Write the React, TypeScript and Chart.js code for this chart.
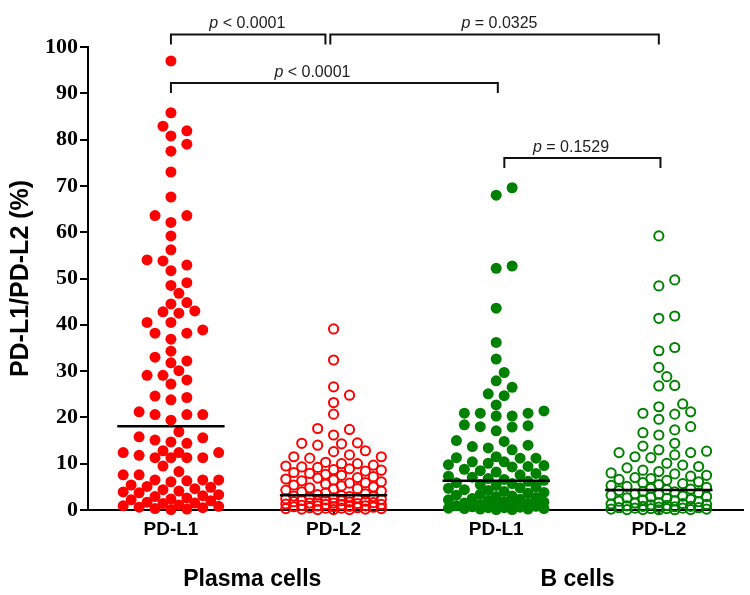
import React, { useEffect, useRef } from 'react';
import { Chart, registerables } from 'chart.js';

Chart.register(...registerables);

// ---------- data ----------
const categories = ['PD-L1', 'PD-L2', 'PD-L1', 'PD-L2'];
const cellGroups = ['Plasma cells', 'B cells'];
const yTicks = [0, 10, 20, 30, 40, 50, 60, 70, 80, 90, 100];

const plasmaPDL1 = [
  97.0, 85.8, 82.9, 81.9, 80.8, 79.0, 77.5, 73.0, 67.6, 63.6, 63.6, 62.1, 59.2, 56.2, 54.0, 53.8,
  52.9, 51.7, 49.1, 48.5, 46.8, 44.8, 44.5, 43.0, 42.8, 42.5, 40.5, 40.5, 38.9, 38.2, 38.2, 36.9,
  34.3, 33.0, 32.2, 31.8, 30.1, 29.1, 29.1, 28.1, 27.2, 24.6, 24.3, 23.8, 21.2, 20.6, 20.6, 20.6,
  19.4, 16.9, 15.8, 15.6, 15.1, 14.7, 14.4, 12.8, 12.4, 12.4, 12.4, 11.8, 11.3, 11.3, 11.3, 11.3,
  9.5, 8.3, 7.6, 7.6, 6.5, 6.5, 6.5, 6.3, 6.1, 5.4, 5.1, 4.9, 4.6, 4.4, 4.1, 3.9, 3.7, 3.3, 3.1,
  2.9, 2.6, 2.4, 2.2, 2.0, 1.7, 1.5, 1.4, 1.1, 0.9, 0.8, 0.6, 0.5, 0.3, 0.2, 0.1,
];

const plasmaPDL2 = [
  39.1, 32.4, 26.6, 24.8, 23.2, 20.7, 17.6, 17.4, 16.2, 14.5, 14.4, 14.3, 14.0, 12.8, 12.6, 11.9,
  11.5, 11.5, 11.2, 10.3, 10.0, 10.0, 9.7, 9.5, 9.3, 9.2, 8.9, 8.7, 8.6, 8.4, 8.1, 7.9, 7.7, 7.5,
  7.2, 7.0, 6.9, 6.7, 6.5, 6.3, 6.1, 5.9, 5.8, 5.6, 5.4, 5.2, 5.0, 4.8, 4.6, 4.5, 4.3, 4.1, 3.9,
  3.7, 3.5, 3.3, 3.1, 3.0, 2.9, 2.9, 2.7, 2.6, 2.6, 2.4, 2.3, 2.2, 2.1, 2.0, 1.9, 1.9, 1.8, 1.7,
  1.6, 1.5, 1.5, 1.4, 1.3, 1.2, 1.2, 1.1, 1.0, 0.9, 0.9, 0.8, 0.7, 0.7, 0.6, 0.5, 0.5, 0.4, 0.4,
  0.3, 0.3, 0.2, 0.2, 0.1, 0.1, 0.1,
];

const bPDL1 = [
  69.6, 68.0, 52.7, 52.2, 43.6, 36.2, 32.6, 29.7, 27.9, 26.5, 25.1, 24.7, 22.7, 21.4, 20.9, 20.9,
  20.9, 20.3, 20.3, 18.4, 18.2, 18.0, 17.9, 17.1, 15.0, 14.8, 14.0, 13.7, 13.4, 13.0, 11.5, 11.3,
  11.2, 11.2, 10.4, 10.4, 10.1, 9.8, 9.6, 9.4, 9.3, 8.8, 8.5, 8.2, 7.9, 7.6, 7.3, 7.1, 6.8, 6.6,
  6.4, 6.2, 5.9, 5.7, 5.5, 5.3, 5.0, 4.8, 4.7, 4.4, 4.2, 4.0, 3.8, 3.6, 3.4, 3.2, 3.0, 2.9, 2.7,
  2.5, 2.3, 2.2, 2.0, 1.8, 1.7, 1.5, 1.4, 1.2, 1.1, 1.0, 0.9, 0.8, 0.7, 0.6, 0.5, 0.5, 0.4, 0.3,
  0.3, 0.2, 0.2, 0.1, 0.1,
];

const bPDL2 = [
  59.2, 49.7, 48.4, 41.9, 41.4, 35.1, 34.4, 30.8, 28.8, 26.9, 26.8, 22.9, 22.3, 21.2, 20.9, 20.7,
  19.6, 18.0, 17.3, 16.7, 16.2, 14.4, 13.8, 13.0, 12.7, 12.4, 12.4, 11.9, 11.5, 11.3, 10.1, 9.7,
  9.4, 9.1, 8.6, 8.3, 8.0, 7.8, 7.5, 7.3, 7.0, 6.8, 6.6, 6.4, 6.1, 5.9, 5.7, 5.5, 5.3, 5.1, 4.9,
  4.7, 4.5, 4.4, 4.2, 4.0, 3.9, 3.7, 3.5, 3.4, 3.2, 3.0, 2.9, 2.8, 2.6, 2.5, 2.3, 2.2, 2.0, 1.9,
  1.8, 1.6, 1.5, 1.4, 1.3, 1.2, 1.1, 1.0, 0.9, 0.8, 0.8, 0.7, 0.6, 0.5, 0.5, 0.4, 0.4, 0.3, 0.3,
  0.2, 0.2, 0.1, 0.1, 0.1, 0.05, 0.05,
];

const medians = [18.1, 3.2, 6.3, 4.3];

// comparison brackets: [from, to, level (y value), label x, relation text]
const brackets: [number, number, number, number, string][] = [
  [1, 1.95, 102.7, 1.47, '< 0.0001'],
  [1.98, 4.0, 102.7, 3.02, '= 0.0325'],
  [1.0, 3.01, 92.2, 1.87, '< 0.0001'],
  [3.05, 4.01, 76.0, 3.46, '= 0.1529'],
];

// ---------- helpers ----------
const PX_PER_X = 163.5;
const PX_PER_Y = 4.633;
const STEP = 8;
const MAXK = 6;
const MIN_D = 11;

function swarm(values: number[], center: number) {
  const sorted = [...values].sort((a, b) => a - b);
  const cands: number[] = [0];
  for (let k = 1; k <= MAXK; k++) cands.push(k * STEP, -k * STEP);
  const placed: { dx: number; py: number }[] = [];
  const out: { x: number; y: number }[] = [];
  for (const v of sorted) {
    const py = v * PX_PER_Y;
    let best = 0;
    let bestD = -1;
    for (const c of cands) {
      let md = Infinity;
      for (const p of placed) {
        if (Math.abs(p.py - py) < MIN_D) {
          const d = Math.hypot(p.dx - c, p.py - py);
          if (d < md) md = d;
        }
      }
      if (md >= MIN_D) {
        best = c;
        bestD = md;
        break;
      }
      if (md > bestD + 0.5) {
        bestD = md;
        best = c;
      }
    }
    placed.push({ dx: best, py });
    out.push({ x: center + best / PX_PER_X, y: v });
  }
  return out;
}

const RED = '#ff0000';
const GREEN = '#008000';

const annotationPlugin = {
  id: 'annotations',
  afterDraw(chart: any) {
    const { ctx, scales } = chart;
    const xs = scales.x;
    const ys = scales.y;
    ctx.save();
    // brackets
    ctx.strokeStyle = '#111';
    ctx.lineWidth = 2;
    for (const [a, b, lvl, lx, txt] of brackets) {
      const x1 = xs.getPixelForValue(a);
      const x2 = xs.getPixelForValue(b);
      const y = ys.getPixelForValue(lvl);
      ctx.beginPath();
      ctx.moveTo(x1, y + 10);
      ctx.lineTo(x1, y);
      ctx.lineTo(x2, y);
      ctx.lineTo(x2, y + 10);
      ctx.stroke();
      const cx = xs.getPixelForValue(lx);
      const ty = y - 6;
      ctx.fillStyle = '#222';
      ctx.textBaseline = 'alphabetic';
      const italic = 'italic 16px "Liberation Sans", Arial, sans-serif';
      const normal = '16px "Liberation Sans", Arial, sans-serif';
      ctx.font = italic;
      const w1 = ctx.measureText('p ').width;
      ctx.font = normal;
      const w2 = ctx.measureText(txt).width;
      const start = cx - (w1 + w2) / 2;
      ctx.font = italic;
      ctx.textAlign = 'left';
      ctx.fillText('p', start, ty);
      ctx.font = normal;
      ctx.fillText(txt, start + w1, ty);
    }
    // group labels
    ctx.fillStyle = '#000';
    ctx.font = 'bold 23px "Liberation Sans", Arial, sans-serif';
    ctx.textAlign = 'center';
    ctx.textBaseline = 'middle';
    cellGroups.forEach((g, i) => {
      const cx = (xs.getPixelForValue(1 + i * 2) + xs.getPixelForValue(2 + i * 2)) / 2;
      ctx.fillText(g, cx, 580);
    });
    ctx.restore();
  },
};

export default function App() {
  const ref = useRef<HTMLCanvasElement | null>(null);

  useEffect(() => {
    if (!ref.current) return;
    const groups = [plasmaPDL1, plasmaPDL2, bPDL1, bPDL2];
    const colors = [RED, RED, GREEN, GREEN];
    const filled = [true, false, true, false];
    const pointSets: any[] = groups.map((vals, i) => ({
      type: 'scatter',
      data: swarm(vals, i + 1),
      pointRadius: filled[i] ? 5.5 : 4.6,
      pointBackgroundColor: filled[i] ? colors[i] : 'rgba(0,0,0,0)',
      pointBorderColor: colors[i],
      pointBorderWidth: filled[i] ? 0 : 2,
      showLine: false,
      clip: false,
      order: 2,
    }));
    const medianSets: any[] = medians.map((m, i) => ({
      type: 'line',
      data: [
        { x: i + 1 - 0.33, y: m },
        { x: i + 1 + 0.33, y: m },
      ],
      borderColor: '#000',
      borderWidth: 2.5,
      pointRadius: 0,
      showLine: true,
      clip: false,
      order: 0,
    }));

    const chart = new Chart(ref.current, {
      type: 'scatter',
      data: { datasets: [...medianSets, ...pointSets] },
      options: {
        responsive: false,
        animation: false,
        layout: { padding: { top: 47, right: 5, left: 0, bottom: 0 } },
        plugins: { legend: { display: false }, tooltip: { enabled: false } },
        scales: {
          x: {
            type: 'linear',
            min: 0.49,
            max: 4.52,
            afterBuildTicks: (s: any) => {
              s.ticks = categories.map((_, i) => ({ value: i + 1 }));
            },
            ticks: {
              autoSkip: false,
              maxRotation: 0,
              padding: 3,
              color: '#000',
              font: { family: '"Liberation Sans", Arial, sans-serif', weight: 'bold', size: 19 },
              callback: (_v: any, i: number) => categories[i],
            },
            grid: {
              display: true,
              drawOnChartArea: false,
              drawTicks: true,
              tickLength: 5,
              color: '#000',
              lineWidth: 2,
            },
            border: { display: true, color: '#000', width: 2 },
            afterFit: (s: any) => {
              s.height = 85;
            },
          },
          y: {
            type: 'linear',
            min: 0,
            max: 100,
            afterBuildTicks: (s: any) => {
              s.ticks = yTicks.map((v) => ({ value: v }));
            },
            ticks: {
              padding: 2,
              color: '#000',
              font: { family: '"Liberation Serif", "Times New Roman", serif', weight: 'bold', size: 22 },
            },
            grid: {
              display: true,
              drawOnChartArea: false,
              drawTicks: true,
              tickLength: 8,
              color: '#000',
              lineWidth: 2,
            },
            border: { display: true, color: '#000', width: 2 },
            title: {
              display: true,
              text: 'PD-L1/PD-L2 (%)',
              color: '#000',
              padding: { top: 6, bottom: 0 },
              font: { family: '"Liberation Sans", Arial, sans-serif', weight: 'bold', size: 25 },
            },
            afterFit: (s: any) => {
              s.width = 88;
            },
          },
        },
      },
      plugins: [annotationPlugin],
    } as any);
    return () => chart.destroy();
  }, []);

  return (
    <div style={{ position: 'absolute', left: 0, top: 0, width: 750, height: 595, background: '#fff' }}>
      <canvas ref={ref} width={750} height={595} style={{ width: 750, height: 595, display: 'block' }} />
    </div>
  );
}
